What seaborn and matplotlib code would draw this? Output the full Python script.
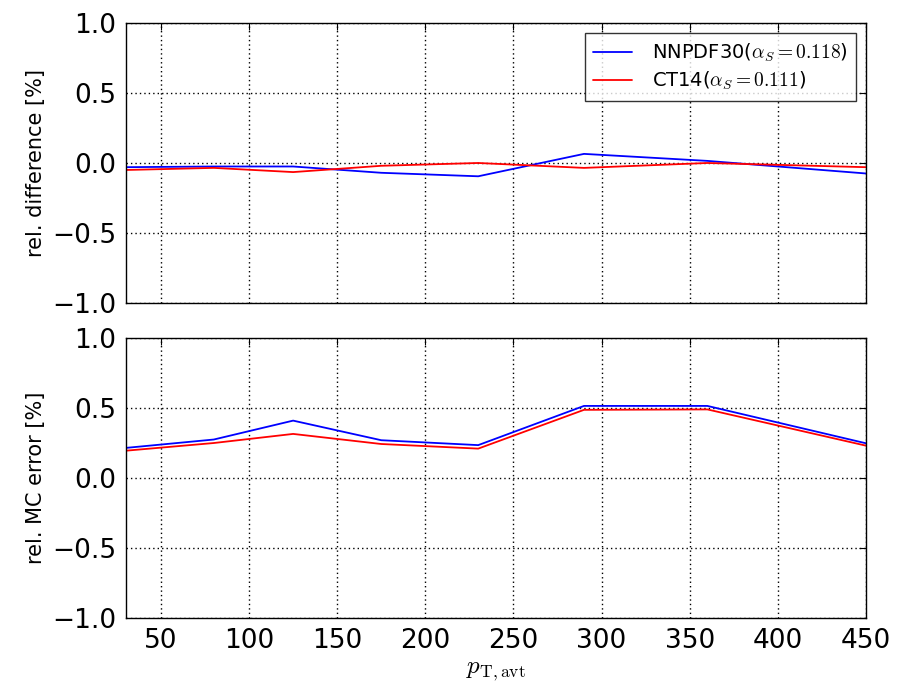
import matplotlib
matplotlib.use("Agg")
import matplotlib.pyplot as plt
import seaborn as sns
import pandas as pd

# --- dati ---
pt = [30, 80, 125, 175, 230, 290, 360, 450]
diff_nnpdf = [-0.03, -0.025, -0.025, -0.07, -0.095, 0.065, 0.015, -0.075]
diff_ct14 = [-0.05, -0.035, -0.065, -0.02, 0.0, -0.035, 0.0, -0.03]
err_nnpdf = [0.215, 0.275, 0.41, 0.27, 0.235, 0.515, 0.515, 0.248]
err_ct14 = [0.195, 0.25, 0.315, 0.243, 0.21, 0.487, 0.49, 0.231]
labels = [r"NNPDF30($\alpha_S = 0.118$)", r"CT14($\alpha_S = 0.111$)"]
colors = ["blue", "red"]

sns.set_style("white")
plt.rcParams["mathtext.fontset"] = "cm"
plt.rcParams["font.family"] = ["DejaVu Sans"]
plt.rcParams["text.color"] = "black"
plt.rcParams["axes.labelcolor"] = "black"
plt.rcParams["xtick.color"] = "black"
plt.rcParams["ytick.color"] = "black"

df_diff = pd.DataFrame({"pt": pt * 2, "val": diff_nnpdf + diff_ct14,
                        "pdf": [labels[0]] * len(pt) + [labels[1]] * len(pt)})
df_err = pd.DataFrame({"pt": pt * 2, "val": err_nnpdf + err_ct14,
                       "pdf": [labels[0]] * len(pt) + [labels[1]] * len(pt)})

fig = plt.figure(figsize=(9.04, 6.88), dpi=100)
ax1 = fig.add_axes([0.139, 0.5596, 0.819, 0.407])
ax2 = fig.add_axes([0.139, 0.1017, 0.819, 0.407])

sns.lineplot(data=df_diff, x="pt", y="val", hue="pdf", palette=colors, ax=ax1, linewidth=1.3)
sns.lineplot(data=df_err, x="pt", y="val", hue="pdf", palette=colors, ax=ax2, linewidth=1.3, legend=False)

for ax in (ax1, ax2):
    ax.set_xlim(30, 450)
    ax.set_ylim(-1.0, 1.0)
    ax.set_yticks([-1.0, -0.5, 0.0, 0.5, 1.0])
    ax.set_xticks([50, 100, 150, 200, 250, 300, 350, 400, 450])
    ax.grid(True, color="black", linestyle=(0, (1, 2.2)), linewidth=1.0)
    ax.tick_params(direction="in", top=True, right=True, length=5, width=0.8,
                   labelsize=19, pad=7, colors="black")
    for s in ax.spines.values():
        s.set_color("black")
        s.set_linewidth(1.0)

ax1.set_xticklabels([])
ax1.set_xlabel("")
ax1.set_ylabel("rel. difference [%]", fontsize=15, color="black")
ax2.set_ylabel("rel. MC error [%]", fontsize=15, color="black")
ax2.set_xlabel(r"$p_{\mathrm{T,avt}}$", fontsize=18, color="black")

leg = ax1.legend(loc="upper right", fontsize=14, frameon=True, fancybox=False,
                 handlelength=2.0, borderpad=0.45, labelspacing=0.3, handletextpad=1.0)
leg.get_frame().set_edgecolor("black")
leg.get_frame().set_linewidth(1.0)
leg.set_title(None)
for t in leg.get_texts():
    t.set_color("black")

fig.savefig("out.png", dpi=100)
